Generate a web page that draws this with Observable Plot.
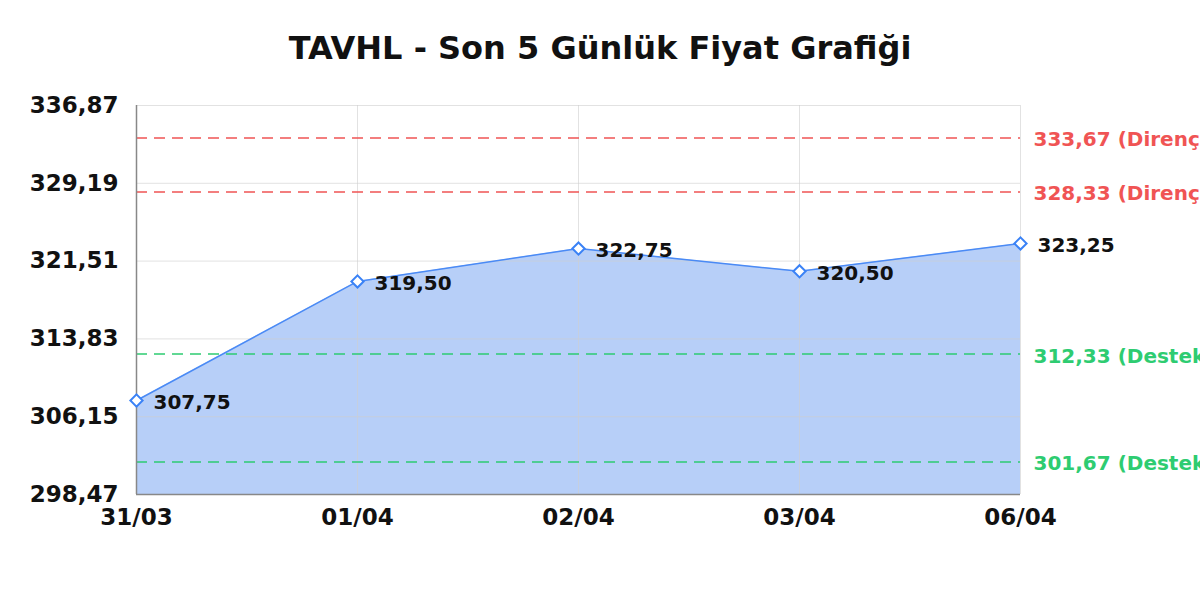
<!DOCTYPE html>
<html><head><meta charset="utf-8">
<script src="https://cdn.jsdelivr.net/npm/d3@7"></script>
<script src="https://cdn.jsdelivr.net/npm/@observablehq/plot@0.6"></script>
<style>
html,body{margin:0;padding:0;background:#fff;overflow:hidden;width:1200px;height:600px}
#title{height:80px;box-sizing:border-box;padding-top:28px;text-align:center;font:bold 32px "DejaVu Sans";color:#111;line-height:40px}
</style></head>
<body>
<div id="title">TAVHL - Son 5 Günlük Fiyat Grafiği</div>
<div id="chart"></div>
<script>
const dates = ["31/03","01/04","02/04","03/04","06/04"];
const prices = [307.75, 319.50, 322.75, 320.50, 323.25];
const yTicks = [298.47, 306.15, 313.83, 321.51, 329.19, 336.87];
const resistance = [333.67, 328.33];
const support = [312.33, 301.67];

const fmt = v => v.toFixed(2).replace(".", ",");
const data = dates.map((d, i) => ({date: d, price: prices[i]}));
const lastDate = dates[dates.length - 1];
const levels = [
  ...resistance.map(v => ({v, date: lastDate, kind: "Direnç", color: "#f05454"})),
  ...support.map(v => ({v, date: lastDate, kind: "Destek", color: "#2ecc71"}))
];
const yMin = yTicks[0], yMax = yTicks[yTicks.length - 1];

const chart = Plot.plot({
  width: 1200,
  height: 520,
  marginTop: 25,
  marginBottom: 106,
  marginLeft: 136,
  marginRight: 180,
  style: {fontFamily: "DejaVu Sans", background: "#fff", overflow: "visible"},
  x: {type: "point", domain: dates, padding: 0, axis: null},
  y: {domain: [yMin, yMax], axis: null},
  marks: [
    Plot.areaY(data, {x: "date", y1: yMin, y2: "price", fill: "#b7cff8", fillOpacity: 1}),
    Plot.gridY(yTicks, {stroke: "#cfcfcf", strokeOpacity: 0.6, strokeWidth: 1}),
    Plot.gridX(dates, {stroke: "#cfcfcf", strokeOpacity: 0.6, strokeWidth: 1}),
    Plot.lineY(data, {x: "date", y: "price", stroke: "#4a8af5", strokeWidth: 1.5}),
    Plot.ruleY(levels, {y: "v", stroke: "color", strokeWidth: 1.5, strokeDasharray: "11,7"}),
    Plot.ruleX([dates[0]], {stroke: "#888", strokeWidth: 1.5}),
    Plot.ruleY([yMin], {stroke: "#888", strokeWidth: 1.5}),
    Plot.dot(data, {x: "date", y: "price", symbol: "diamond2", r: 5.5, stroke: "#3a82f6", fill: "#fff", strokeWidth: 2}),
    Plot.text(data, {x: "date", y: "price", text: d => fmt(d.price), dx: 17, dy: 2, textAnchor: "start", fontSize: 20, fontWeight: "bold", fill: "#111"}),
    Plot.text(levels, {x: "date", y: "v", text: d => `${fmt(d.v)} (${d.kind})`, dx: 13, dy: 2, textAnchor: "start", fontSize: 20, fontWeight: "bold", fill: "color"}),
    Plot.axisY(yTicks, {tickSize: 0, tickPadding: 18, tickFormat: fmt, fontSize: 23, fontWeight: "bold", fill: "#111", label: null}),
    Plot.axisX(dates, {tickSize: 0, tickPadding: 14, fontSize: 23, fontWeight: "bold", fill: "#111", label: null})
  ]
});
document.getElementById("chart").appendChild(chart);
</script>
</body></html>
